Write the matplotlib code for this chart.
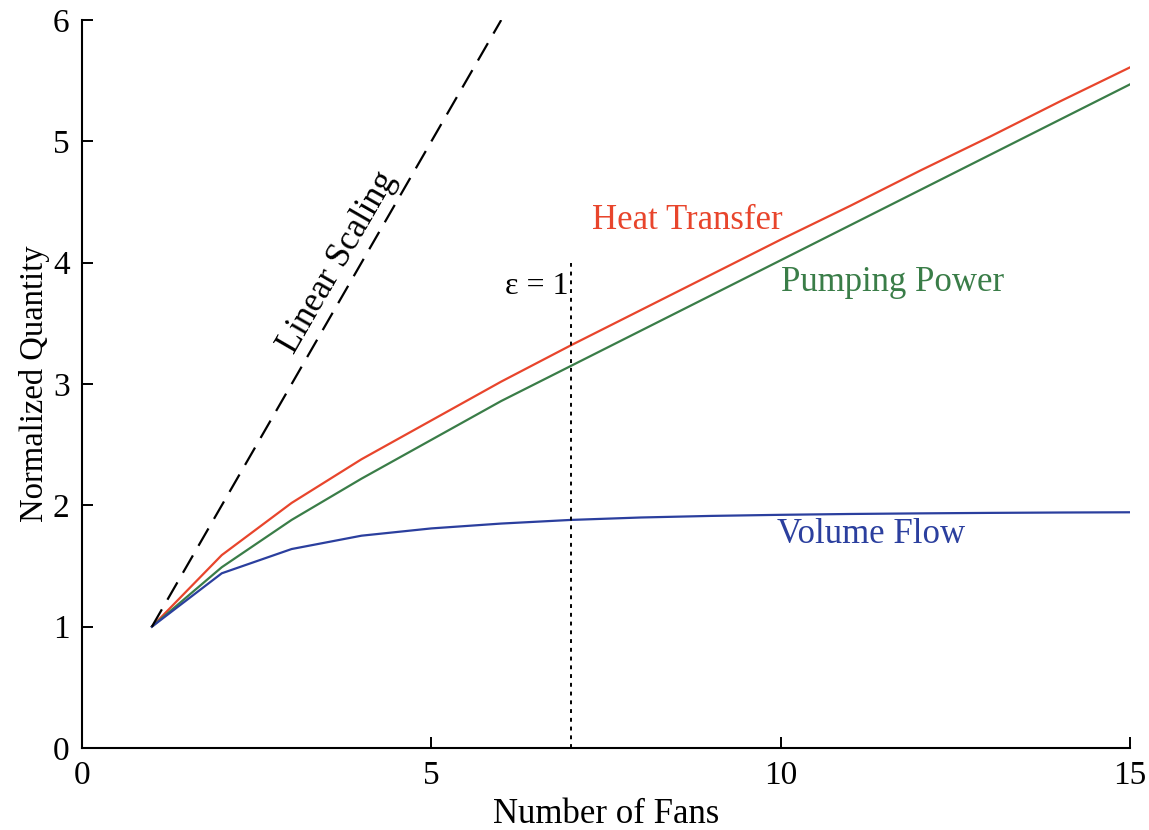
import numpy as np
import matplotlib.pyplot as plt

fans = [1, 2, 3, 4, 5, 6, 7, 8, 9, 10, 11, 12, 13, 14, 15]
heat_transfer = [1.00, 1.59, 2.02, 2.38, 2.70, 3.02, 3.32, 3.61, 3.90, 4.19, 4.47, 4.76, 5.04, 5.33, 5.61]
pumping_power = [1.00, 1.49, 1.88, 2.22, 2.54, 2.86, 3.15, 3.44, 3.73, 4.02, 4.31, 4.60, 4.89, 5.18, 5.47]
volume_flow = [1.00, 1.44, 1.64, 1.75, 1.81, 1.85, 1.88, 1.900, 1.913, 1.922, 1.929, 1.934, 1.938, 1.941, 1.943]
linear_x = [1, 6]
linear_y = [1, 6]
eps_x = 7
eps_top = 4.0

red = '#e8452c'
green = '#3a7d48'
blue = '#2b3f9e'

plt.rcParams['font.family'] = ['Liberation Serif', 'DejaVu Serif']

fig = plt.figure(figsize=(11.49, 8.30), dpi=100)
ax = fig.add_axes([0.0714, 0.0988, 0.912, 0.877])

ax.plot(fans, heat_transfer, color=red, lw=1.6)
ax.plot(fans, pumping_power, color=green, lw=1.6)
ax.plot(fans, volume_flow, color=blue, lw=1.6)
ax.plot(linear_x, linear_y, color='black', lw=1.6, dashes=(9, 5))
ax.plot([eps_x, eps_x], [0, eps_top], color='black', lw=1.4, dashes=(2, 2.5))

ax.text(3.66, 4.0, 'Linear Scaling', rotation=60, fontsize=25,
        ha='center', va='center', rotation_mode='anchor')
ax.text(8.67, 4.35, 'Heat Transfer', color=red, fontsize=25, ha='center', va='center')
ax.text(11.6, 3.84, 'Pumping Power', color=green, fontsize=25, ha='center', va='center')
ax.text(11.3, 1.76, 'Volume Flow', color=blue, fontsize=25, ha='center', va='center')
ax.text(6.97, 3.80, 'ε = 1', fontsize=23, ha='right', va='center')

ax.set_xlim(0, 15)
ax.set_ylim(0, 6)
ax.set_xticks([0, 5, 10, 15])
ax.set_yticks([0, 1, 2, 3, 4, 5, 6])
ax.tick_params(direction='in', length=8, width=1.4, labelsize=24, pad=9)
ax.spines['top'].set_visible(False)
ax.spines['right'].set_visible(False)
for s in ['left', 'bottom']:
    ax.spines[s].set_linewidth(1.5)

ax.set_xlabel('Number of Fans', fontsize=25, labelpad=5)
ax.set_ylabel('Normalized Quantity', fontsize=23.5, labelpad=2)

fig.savefig('out.png', dpi=100)
